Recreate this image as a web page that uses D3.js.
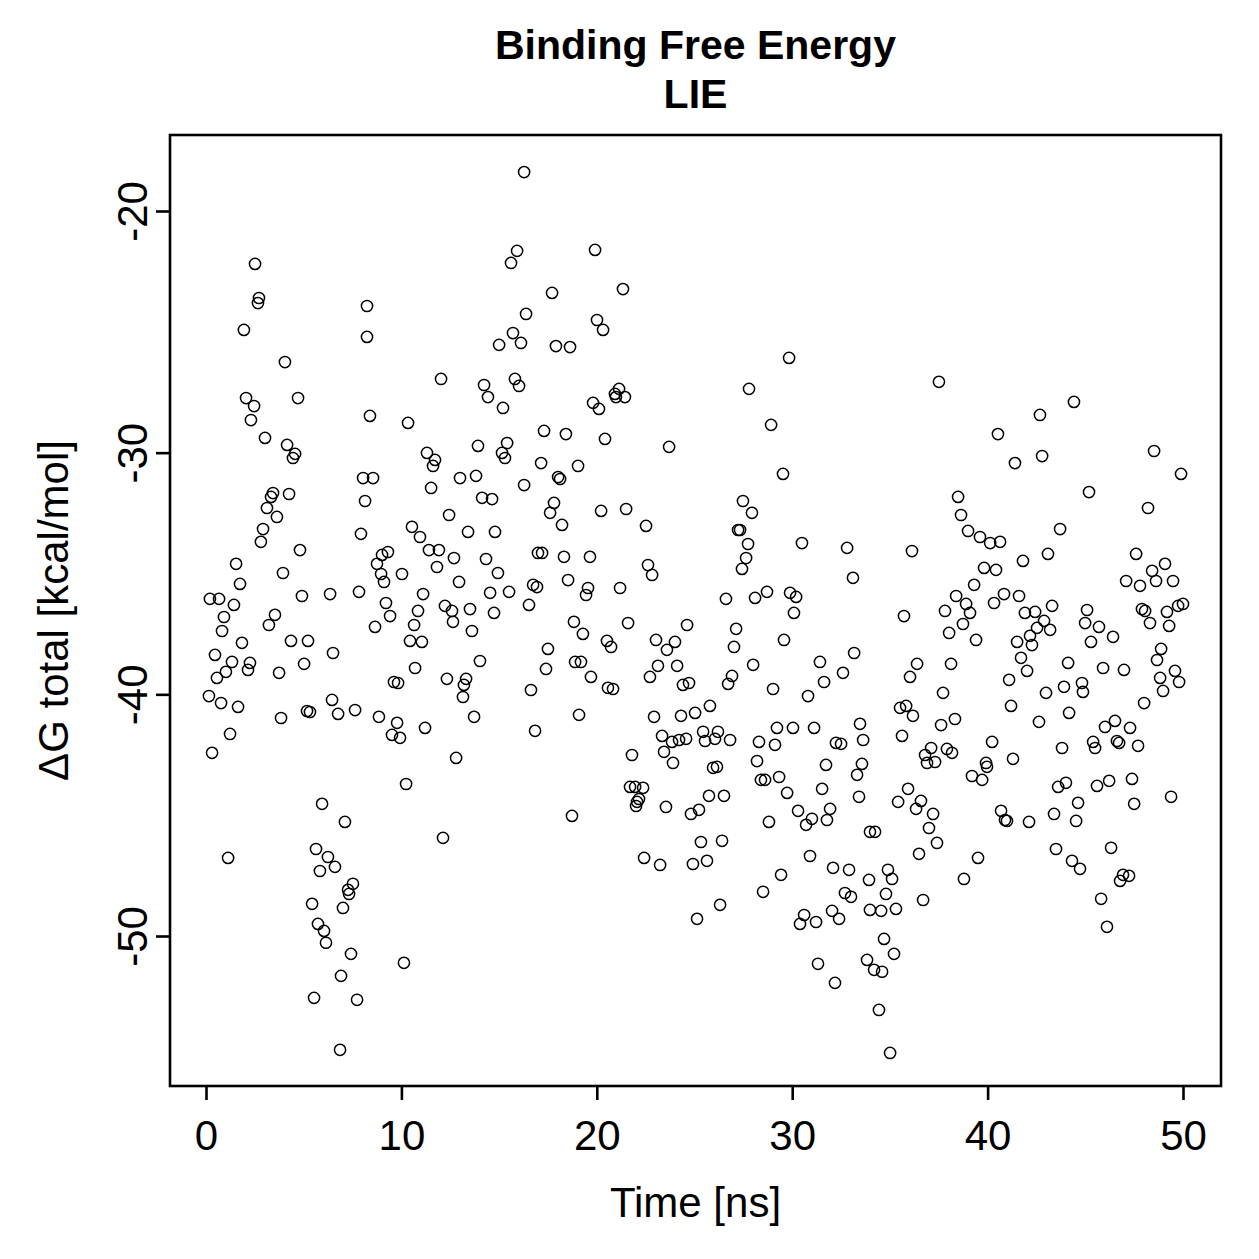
<!DOCTYPE html>
<html>
<head>
<meta charset="utf-8">
<script src="https://cdn.jsdelivr.net/npm/d3@7"></script>
<style>
  body { margin: 0; background: #fff; }
  svg text { font-family: "Liberation Sans", Arial, Helvetica, sans-serif; fill: #000; }
</style>
</head>
<body>
<div id="chart"></div>
<script>
// simulation time in ns
const time = [
  16.28, 2.51, 2.71, 2.66, 1.94, 8.24, 8.24, 4.04, 15.92, 15.61,
  16.38, 15.71, 16.12, 15.00, 12.03, 14.23, 14.43, 15.81, 16.02, 15.20,
  2.05, 2.46, 2.30, 4.71, 8.39, 10.34, 3.02, 4.15, 4.56, 4.45,
  11.31, 11.72, 13.92, 15.41, 15.15, 15.30,
  8.04, 8.55, 8.14, 7.93, 11.62, 11.52, 13.00, 13.82, 14.13, 14.64,
  12.44, 10.54, 10.95, 13.41, 14.79, 3.43, 3.33, 4.25, 3.12, 3.63,
  2.92, 2.81, 4.81, 1.54, 3.94, 1.74, 0.20, 0.67, 1.43, 0.92,
  4.91, 6.35, 7.83, 0.82, 1.84, 3.22, 3.53, 4.35, 5.22, 6.50,
  0.46, 1.33, 2.25, 2.15, 1.02, 0.56, 3.74, 5.02, 0.15, 0.77,
  1.64, 3.84, 5.17, 5.32, 6.45, 6.76, 7.63, 8.85, 9.78, 9.52,
  9.93, 11.21, 12.80, 1.23, 0.31, 9.01, 9.31, 8.75, 8.96, 9.11,
  10.03, 11.41, 11.92, 12.69, 11.82, 14.33, 14.94, 12.95, 11.11, 9.21,
  9.42, 8.65, 10.85, 10.65, 12.23, 12.59, 12.64, 13.51, 14.54, 15.51,
  14.74, 13.61, 10.44, 11.05, 10.70, 14.02, 12.33, 13.31, 13.20, 13.15,
  9.62, 9.83, 13.72,
  1.13, 5.94, 7.11, 10.24, 12.13, 5.63, 6.24, 6.60, 5.83, 7.52,
  7.27, 7.32, 5.43, 7.01, 5.73, 6.04, 6.14, 7.42, 10.13, 6.91,
  5.53, 7.73, 6.86,
  19.91, 17.71, 21.34, 20.01, 20.32, 17.91, 18.63, 29.84, 27.79, 20.93,
  21.14, 20.98, 21.44, 19.81, 20.11, 28.92, 17.30, 18.42, 20.42, 23.70,
  37.51, 44.42, 42.68, 40.53, 42.79, 48.52, 41.40,
  17.15, 19.04, 18.02, 18.12, 16.28, 29.53, 17.81, 17.61, 20.22, 21.50,
  18.22, 22.52, 27.48, 27.94, 27.23, 27.33, 27.74, 27.64, 27.43, 30.50,
  32.81, 33.11, 16.99, 17.20, 18.32, 19.65, 22.62, 22.83, 16.74, 16.94,
  18.53, 19.55, 19.45, 21.19, 16.53, 26.61, 28.10, 28.71, 29.89, 30.20,
  30.09, 18.83, 19.29, 21.60, 24.62, 27.13, 27.02, 29.58, 20.52, 20.73,
  17.50, 23.03, 23.59, 24.00, 23.13, 24.11, 22.72, 18.89, 19.19, 17.40,
  19.70, 28.00, 26.92, 26.72, 33.17, 31.42, 32.60, 31.63, 29.02, 30.81,
  16.63, 20.57, 20.83, 24.41, 24.72, 19.09, 16.84, 22.93, 24.31, 25.03,
  25.79, 23.34, 23.85, 24.21, 24.57, 25.44, 25.54, 26.05, 26.20, 26.82,
  28.30, 29.12, 29.22, 30.04, 31.12, 32.24, 32.50, 33.47, 33.63, 21.80,
  23.44, 23.90, 28.20, 31.73, 25.95, 26.15,
  21.70, 21.96, 22.37, 22.16, 22.06, 22.01, 18.73, 23.54, 25.74, 26.51,
  24.82, 25.23, 28.40, 28.61, 29.33, 29.74, 31.53, 31.94, 31.78, 30.30,
  31.01, 30.71, 28.81, 25.33, 26.41, 22.42, 23.24, 24.92, 25.64, 30.91,
  32.09, 32.91, 29.43, 28.51, 32.70, 33.01, 26.31, 25.13, 30.61, 30.40,
  31.22, 32.04, 32.40, 31.32, 32.19,
  49.90, 45.19, 48.21, 38.49, 38.64, 39.00, 39.61, 40.13, 40.64, 43.71,
  43.09, 41.81, 36.13, 39.82, 40.43, 39.31, 38.39, 38.90, 39.10, 37.82,
  38.74, 38.03, 39.41, 40.84, 40.33, 41.61, 41.91, 42.43, 43.30, 42.89,
  42.53, 42.17, 42.27, 43.20, 41.51, 47.60, 48.42, 49.08, 48.62, 49.49,
  47.09, 47.80, 47.90, 48.06, 48.31, 49.18, 49.29, 49.75, 50.00, 45.09,
  44.99, 45.70, 45.29, 46.42, 35.72, 41.71, 42.02, 44.12, 45.91, 46.98,
  48.88, 48.67, 49.59, 49.80, 48.83, 48.98, 36.39, 36.03, 38.13, 37.72,
  41.10, 43.91, 44.83, 44.88, 42.99, 48.01, 41.20, 44.17, 42.63, 35.52,
  35.83, 36.18, 35.62, 38.33, 37.62, 40.23, 37.11, 36.80, 36.90, 37.31,
  37.92, 38.18, 39.92, 39.97, 41.30, 43.81, 46.52, 46.01, 47.29, 45.40,
  45.50, 46.62, 46.73, 47.70,
  33.57, 33.32, 33.42, 35.93, 35.42, 36.59, 36.34, 37.21, 37.00, 37.41,
  36.49, 33.98, 34.24, 39.20, 39.72, 39.51, 38.79, 40.69, 40.89, 40.99,
  42.12, 43.40, 43.50, 44.32, 44.73, 43.61, 44.01, 44.63, 44.53, 45.60,
  46.22, 47.39, 47.50, 49.39, 46.32, 46.93, 47.24, 46.78, 45.81, 46.11,
  33.93, 34.90, 35.11, 34.80, 36.70, 33.98, 34.55, 35.31, 34.70, 35.21,
  33.83, 34.19, 34.60, 34.44, 35.01
];

// ΔG total in kcal/mol, same order as time
const dG = [
  -18.39, -22.19, -23.60, -23.81, -24.92, -23.93, -25.21, -26.25, -21.65, -22.15,
  -24.26, -25.05, -25.46, -25.54, -26.95, -27.20, -27.70, -26.95, -27.24, -28.15,
  -27.74, -28.07, -28.65, -27.74, -28.48, -28.77, -29.39, -29.68, -30.05, -30.22,
  -30.01, -30.30, -29.72, -29.60, -30.01, -30.22,
  -31.05, -31.05, -32.00, -33.36, -30.55, -31.46, -31.05, -30.96, -31.87, -31.92,
  -32.58, -33.07, -33.49, -33.28, -33.28, -31.67, -31.83, -31.71, -32.29, -32.66,
  -33.16, -33.69, -34.03, -34.60, -34.98, -35.43, -36.05, -36.05, -36.30, -36.80,
  -35.93, -35.85, -35.76, -37.38, -37.87, -37.13, -36.71, -37.79, -37.79, -38.29,
  -38.37, -38.66, -38.70, -38.99, -39.07, -39.32, -39.11, -38.74, -40.07, -40.36,
  -40.52, -40.98, -40.69, -40.73, -40.23, -40.81, -40.65, -40.93, -41.18, -41.68,
  -41.80, -41.39, -42.63, -41.64, -42.42, -34.23, -34.11, -34.60, -35.02, -35.35,
  -35.02, -34.03, -34.03, -34.36, -34.73, -34.40, -34.98, -35.35, -35.85, -36.22,
  -36.76, -37.21, -36.55, -37.13, -36.34, -36.55, -37.00, -36.47, -35.80, -35.76,
  -36.63, -37.38, -37.79, -37.83, -38.91, -38.62, -39.36, -39.36, -39.61, -40.11,
  -39.49, -39.53, -40.93,
  -46.77, -44.53, -45.28, -43.71, -45.94, -46.40, -46.73, -47.14, -47.31, -47.84,
  -48.09, -48.26, -48.67, -48.84, -49.50, -49.79, -50.28, -50.74, -51.11, -51.65,
  -52.56, -52.64, -54.71,
  -21.61, -23.39, -23.23, -24.51, -24.92, -25.59, -25.63, -26.08, -27.36, -27.57,
  -27.36, -27.70, -27.70, -27.94, -28.19, -28.85, -29.10, -29.23, -29.43, -29.76,
  -27.07, -27.90, -28.44, -29.23, -30.14, -29.93, -30.43,
  -30.43, -30.55, -31.01, -31.09, -31.34, -30.88, -32.08, -32.49, -32.41, -32.33,
  -32.99, -33.03, -32.00, -32.49, -33.20, -33.20, -33.78, -34.36, -34.81, -33.74,
  -33.94, -35.18, -34.15, -34.15, -34.31, -34.31, -34.65, -35.06, -35.47, -35.56,
  -35.27, -35.60, -35.89, -35.60, -36.30, -36.05, -36.01, -35.76, -35.80, -35.97,
  -36.63, -37.00, -37.50, -37.05, -37.13, -37.29, -38.04, -37.75, -37.79, -38.04,
  -38.12, -37.75, -38.16, -37.83, -38.82, -38.82, -39.28, -38.66, -38.66, -38.95,
  -39.28, -38.78, -39.24, -39.57, -38.29, -38.66, -39.11, -39.49, -39.78, -40.07,
  -39.82, -39.73, -39.78, -39.61, -39.53, -40.85, -41.51, -40.93, -40.89, -40.77,
  -40.48, -41.72, -41.97, -41.89, -41.84, -41.55, -41.93, -41.84, -41.55, -41.89,
  -41.97, -42.09, -41.39, -41.39, -41.39, -42.01, -42.05, -41.22, -41.89, -42.51,
  -42.38, -42.84, -42.76, -42.92, -43.04, -43.00,
  -43.83, -43.83, -43.87, -44.33, -44.45, -44.62, -45.03, -44.66, -44.20, -44.20,
  -44.95, -44.78, -43.54, -43.54, -43.42, -44.08, -43.91, -44.74, -45.20, -44.82,
  -45.15, -45.40, -45.28, -46.11, -46.06, -46.77, -47.06, -47.02, -46.89, -46.69,
  -47.18, -47.26, -47.47, -48.17, -48.22, -48.38, -48.71, -49.29, -49.13, -49.50,
  -49.42, -48.96, -49.29, -51.15, -51.94,
  -30.88, -31.63, -32.29, -31.83, -32.58, -33.24, -33.49, -33.74, -33.69, -33.16,
  -34.19, -34.48, -34.07, -34.77, -34.85, -35.47, -35.93, -36.26, -36.63, -36.55,
  -37.09, -37.46, -37.75, -35.85, -36.22, -35.93, -36.63, -36.59, -36.34, -36.96,
  -37.25, -37.58, -37.96, -37.33, -37.83, -34.19, -34.89, -34.60, -35.31, -35.31,
  -35.31, -35.51, -36.47, -36.55, -37.05, -36.59, -37.17, -36.34, -36.26, -36.51,
  -37.05, -37.21, -37.83, -37.62, -36.76, -38.49, -39.03, -38.70, -38.91, -38.99,
  -38.12, -38.58, -39.03, -39.49, -39.32, -39.86, -38.74, -39.28, -38.74, -39.94,
  -39.40, -39.69, -39.53, -39.90, -39.94, -40.36, -40.48, -40.77, -41.14, -40.56,
  -40.48, -40.89, -41.72, -41.02, -41.27, -41.97, -42.22, -42.51, -42.84, -42.80,
  -42.26, -42.42, -42.84, -43.00, -42.67, -42.22, -41.10, -41.35, -41.39, -41.97,
  -42.22, -41.93, -42.01, -42.13,
  -42.88, -43.33, -44.24, -43.91, -44.45, -44.41, -44.74, -44.95, -45.53, -46.15,
  -46.60, -45.69, -45.69, -43.38, -43.54, -46.77, -47.64, -44.82, -45.20, -45.24,
  -45.28, -44.95, -46.40, -46.89, -47.22, -43.83, -43.66, -44.49, -45.24, -43.79,
  -43.58, -43.50, -44.53, -44.24, -46.35, -47.47, -47.51, -47.72, -48.46, -49.62,
  -47.68, -47.26, -47.64, -48.26, -48.51, -48.92, -48.96, -48.88, -50.12, -50.74,
  -50.99, -51.40, -51.48, -53.06, -54.84
];

const xTicks = [0, 10, 20, 30, 40, 50];
const yTicks = [-20, -30, -40, -50];
const titleLines = ['Binding Free Energy', 'LIE'];
const xLabel = 'Time [ns]';
const yLabel = 'ΔG total [kcal/mol]';

const w = 1259;
const h = 1259;
const box = { left: 170, right: 1221, top: 135, bottom: 1086 };

const points = time.map((t, i) => ({ t: t, v: dG[i] }));

const xScale = d3.scaleLinear().domain([0, 50]).range([206, 1183]);
const yScale = d3.scaleLinear().domain([-20, -50]).range([211, 936]);

const svg = d3.select('#chart').append('svg').attr('width', w).attr('height', h);
svg.append('rect').attr('width', w).attr('height', h).attr('fill', '#fff');

// title
svg.selectAll('text.title')
  .data(titleLines)
  .enter()
  .append('text')
  .attr('class', 'title')
  .attr('x', (box.left + box.right) / 2)
  .attr('y', (d, i) => 59 + i * 49)
  .attr('text-anchor', 'middle')
  .style('font-size', '41px')
  .style('font-weight', 'bold')
  .text(d => d);

// points
svg.append('g')
  .selectAll('circle')
  .data(points)
  .enter()
  .append('circle')
  .attr('cx', d => xScale(d.t))
  .attr('cy', d => yScale(d.v))
  .attr('r', 5.6)
  .attr('fill', 'none')
  .attr('stroke', '#000')
  .attr('stroke-width', 1.5);

// box
svg.append('rect')
  .attr('x', box.left)
  .attr('y', box.top)
  .attr('width', box.right - box.left)
  .attr('height', box.bottom - box.top)
  .attr('fill', 'none')
  .attr('stroke', '#000')
  .attr('stroke-width', 2.6);

// x axis
const xAxis = d3.axisBottom(xScale).tickValues(xTicks).tickSize(14).tickPadding(20).tickFormat(d3.format('d'));
const gx = svg.append('g').attr('transform', 'translate(0,' + box.bottom + ')').call(xAxis);
gx.select('.domain').remove();
gx.selectAll('line').attr('stroke-width', 2.6);
gx.selectAll('text').style('font-size', '42px').attr('font-family', null);

// y axis, labels turned like R does
const yAxis = d3.axisLeft(yScale).tickValues(yTicks).tickSize(14).tickFormat(d => String(d));
const gy = svg.append('g').attr('transform', 'translate(' + box.left + ',0)').call(yAxis);
gy.select('.domain').remove();
gy.selectAll('line').attr('stroke-width', 2.6);
gy.selectAll('text')
  .attr('transform', 'rotate(-90)')
  .attr('x', 0)
  .attr('y', -23)
  .attr('dy', null)
  .attr('text-anchor', 'middle')
  .attr('font-family', null)
  .style('font-size', '42px');

// axis titles
svg.append('text')
  .attr('x', (box.left + box.right) / 2)
  .attr('y', 1217)
  .attr('text-anchor', 'middle')
  .style('font-size', '42px')
  .text(xLabel);

svg.append('text')
  .attr('transform', 'translate(68,' + (box.top + box.bottom) / 2 + ') rotate(-90)')
  .attr('text-anchor', 'middle')
  .style('font-size', '42px')
  .text(yLabel);
</script>
</body>
</html>
